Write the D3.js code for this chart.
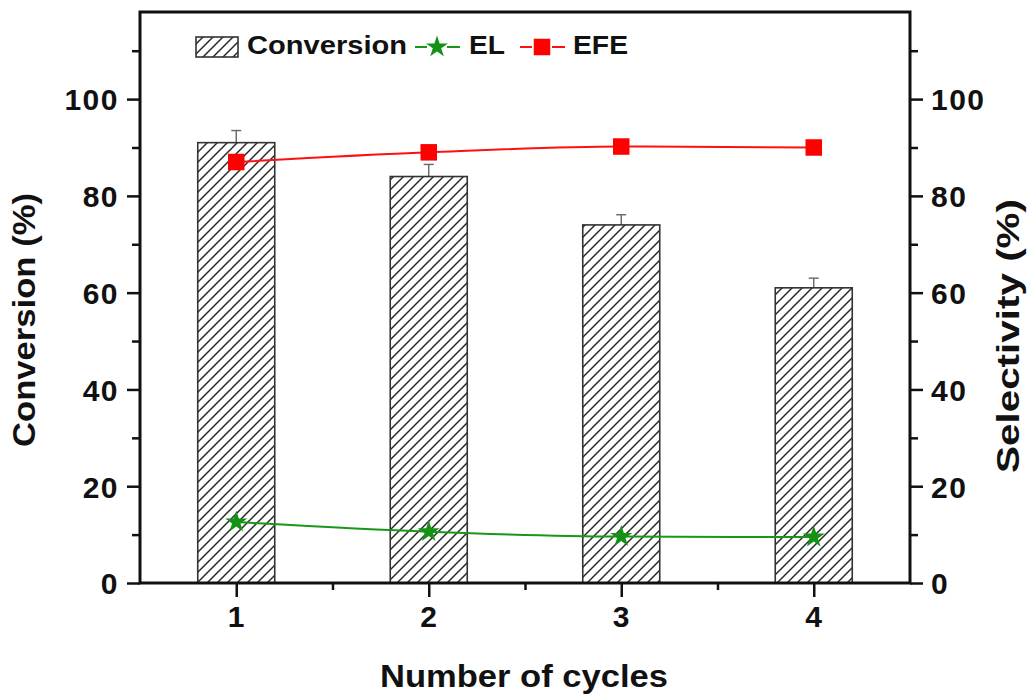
<!DOCTYPE html>
<html>
<head>
<meta charset="utf-8">
<script src="https://cdn.jsdelivr.net/npm/d3@7"></script>
<style>
  html, body { margin: 0; padding: 0; background: #fff; }
  svg { display: block; font-family: "Liberation Sans", Arial, sans-serif; font-weight: bold; }
</style>
</head>
<body>
<svg id="chart" width="1034" height="698"></svg>
<script>
// Catalyst recycling: conversion per cycle with product selectivities
const cycles = [1, 2, 3, 4];
const conversion = [91, 84, 74, 61];
const conversionErr = [2.5, 2.5, 2.1, 2.0];
const selectivityEL = [12.6, 10.6, 9.6, 9.5];
const selectivityEFE = [87, 89, 90.2, 90];
const yMajorTicks = [0, 20, 40, 60, 80, 100];
const yMinorTicks = [10, 30, 50, 70, 90, 110];
const xMajorTicks = [1, 2, 3, 4];
const xMinorTicks = [1.5, 2.5, 3.5];

const svg = d3.select("#chart");
const plotLeft = 140, plotRight = 910, plotTop = 12, plotBottom = 583;

const x = d3.scaleLinear().domain([0.5, 4.5]).range([plotLeft, plotRight]);
const y = d3.scaleLinear().domain([0, 118]).range([plotBottom, plotTop]);
const yR = d3.scaleLinear().domain([0, 118]).range([plotBottom, plotTop]);

// diagonal hatch fill for the conversion bars
const hs = 10;
const defs = svg.append("defs");
const pat = defs.append("pattern")
  .attr("id", "hatch")
  .attr("patternUnits", "userSpaceOnUse")
  .attr("width", hs).attr("height", hs);
pat.append("rect").attr("width", hs).attr("height", hs).attr("fill", "#fff");
pat.append("path")
  .attr("d", `M0,${hs} L${hs},0 M-2,2 L2,-2 M${hs - 2},${hs + 2} L${hs + 2},${hs - 2}`)
  .attr("stroke", "#2a2a2a").attr("stroke-width", 1.5);

const barW = x(1.2) - x(0.8);

// error bars (upper half, drawn behind the bar)
const eb = svg.append("g").attr("stroke", "#666").attr("stroke-width", 1.4);
cycles.forEach((c, i) => {
  const cx = x(c);
  eb.append("line").attr("x1", cx).attr("x2", cx)
    .attr("y1", y(conversion[i])).attr("y2", y(conversion[i] + conversionErr[i]));
  eb.append("line").attr("x1", cx - 5).attr("x2", cx + 5)
    .attr("y1", y(conversion[i] + conversionErr[i])).attr("y2", y(conversion[i] + conversionErr[i]));
});

// bars
svg.append("g").selectAll("rect")
  .data(cycles)
  .join("rect")
  .attr("x", d => x(d) - barW / 2)
  .attr("width", barW)
  .attr("y", (d, i) => y(conversion[i]))
  .attr("height", (d, i) => y(0) - y(conversion[i]))
  .attr("fill", "url(#hatch)")
  .attr("stroke", "#333")
  .attr("stroke-width", 1.6);

// selectivity lines
const lineGen = d3.line().x((d, i) => x(cycles[i])).y(d => yR(d)).curve(d3.curveMonotoneX);
svg.append("path").datum(selectivityEFE)
  .attr("d", lineGen).attr("fill", "none").attr("stroke", "#ff1010").attr("stroke-width", 2);
svg.append("path").datum(selectivityEL)
  .attr("d", lineGen).attr("fill", "none").attr("stroke", "#1a961a").attr("stroke-width", 2);

const sq = 16.5;
svg.append("g").selectAll("rect")
  .data(selectivityEFE)
  .join("rect")
  .attr("x", (d, i) => x(cycles[i]) - sq / 2)
  .attr("y", d => yR(d) - sq / 2)
  .attr("width", sq).attr("height", sq)
  .attr("fill", "#ff0000");

const star = d3.symbol().type(d3.symbolStar).size(150);
svg.append("g").selectAll("path")
  .data(selectivityEL)
  .join("path")
  .attr("d", star)
  .attr("transform", (d, i) => `translate(${x(cycles[i])},${yR(d)})`)
  .attr("fill", "#139213");

// axes frame
const axisColor = "#111";
const frame = svg.append("g").attr("stroke", axisColor).attr("stroke-width", 3).attr("fill", "none");
frame.append("rect").attr("x", plotLeft).attr("y", plotTop)
  .attr("width", plotRight - plotLeft).attr("height", plotBottom - plotTop);

// left axis
const gL = svg.append("g").attr("transform", `translate(${plotLeft},0)`)
  .call(d3.axisLeft(y).tickValues(yMajorTicks).tickSize(13).tickPadding(8).tickFormat(d3.format("d")));
const gLm = svg.append("g").attr("transform", `translate(${plotLeft},0)`)
  .call(d3.axisLeft(y).tickValues(yMinorTicks).tickSize(8).tickFormat(""));
// right axis
const gR = svg.append("g").attr("transform", `translate(${plotRight},0)`)
  .call(d3.axisRight(yR).tickValues(yMajorTicks).tickSize(13).tickPadding(8).tickFormat(d3.format("d")));
const gRm = svg.append("g").attr("transform", `translate(${plotRight},0)`)
  .call(d3.axisRight(yR).tickValues(yMinorTicks).tickSize(8).tickFormat(""));
// bottom axis
const gB = svg.append("g").attr("transform", `translate(0,${plotBottom})`)
  .call(d3.axisBottom(x).tickValues(xMajorTicks).tickSize(14).tickPadding(8).tickFormat(d3.format("d")));
const gBm = svg.append("g").attr("transform", `translate(0,${plotBottom})`)
  .call(d3.axisBottom(x).tickValues(xMinorTicks).tickSize(7).tickFormat(""));

[gL, gLm, gR, gRm, gB, gBm].forEach(g => {
  g.select(".domain").remove();
  g.selectAll(".tick line").attr("stroke", axisColor).attr("stroke-width", 2.5);
  g.selectAll(".tick text")
    .attr("fill", "#111")
    .attr("font-size", 30)
    .attr("font-weight", "bold")
    .attr("font-family", "'Liberation Sans', Arial, sans-serif")
    .style("letter-spacing", "1.5px");
});
gL.selectAll(".tick text").attr("dy", "0.36em");
gR.selectAll(".tick text").attr("dy", "0.36em");
gB.selectAll(".tick text").attr("dy", "0.72em");

// axis titles
svg.append("text")
  .attr("x", (plotLeft + plotRight) / 2 - 1).attr("y", 687)
  .attr("text-anchor", "middle").attr("font-size", 31).attr("fill", "#111")
  .attr("textLength", 288).attr("lengthAdjust", "spacingAndGlyphs")
  .text("Number of cycles");
svg.append("text")
  .attr("transform", "translate(35,320) rotate(-90)")
  .attr("text-anchor", "middle").attr("font-size", 31).attr("fill", "#111")
  .attr("textLength", 254).attr("lengthAdjust", "spacingAndGlyphs")
  .text("Conversion (%)");
svg.append("text")
  .attr("transform", "translate(1019,336) rotate(-90)")
  .attr("text-anchor", "middle").attr("font-size", 31).attr("fill", "#111")
  .attr("textLength", 274).attr("lengthAdjust", "spacingAndGlyphs")
  .text("Selectivity (%)");

// legend
const lg = svg.append("g");
lg.append("rect").attr("x", 196).attr("y", 37).attr("width", 42).attr("height", 20)
  .attr("fill", "url(#hatch)").attr("stroke", "#333").attr("stroke-width", 1.6);
lg.append("text").attr("x", 247).attr("y", 54).attr("font-size", 26).attr("fill", "#111")
  .attr("textLength", 160).attr("lengthAdjust", "spacingAndGlyphs").text("Conversion");

lg.append("line").attr("x1", 415).attr("x2", 427).attr("y1", 47).attr("y2", 47)
  .attr("stroke", "#1a961a").attr("stroke-width", 2);
lg.append("line").attr("x1", 447).attr("x2", 460).attr("y1", 47).attr("y2", 47)
  .attr("stroke", "#1a961a").attr("stroke-width", 2);
lg.append("path").attr("d", star).attr("transform", "translate(437,47)").attr("fill", "#139213");
lg.append("text").attr("x", 469).attr("y", 54).attr("font-size", 26).attr("fill", "#111")
  .attr("textLength", 36).attr("lengthAdjust", "spacingAndGlyphs").text("EL");

lg.append("line").attr("x1", 520).attr("x2", 532).attr("y1", 47).attr("y2", 47)
  .attr("stroke", "#ff1010").attr("stroke-width", 2);
lg.append("line").attr("x1", 552).attr("x2", 565).attr("y1", 47).attr("y2", 47)
  .attr("stroke", "#ff1010").attr("stroke-width", 2);
lg.append("rect").attr("x", 542 - sq / 2).attr("y", 47 - sq / 2).attr("width", sq).attr("height", sq)
  .attr("fill", "#ff0000");
lg.append("text").attr("x", 573).attr("y", 54).attr("font-size", 26).attr("fill", "#111")
  .attr("textLength", 55).attr("lengthAdjust", "spacingAndGlyphs").text("EFE");
</script>
</body>
</html>
